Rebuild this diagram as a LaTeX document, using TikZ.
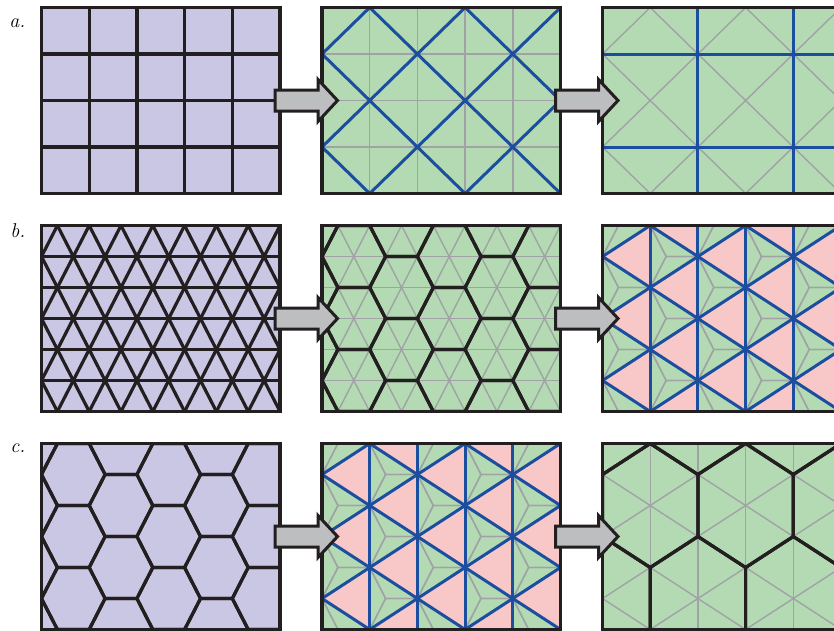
\documentclass[tikz,border=0pt]{standalone}
\usepackage{tikz}
\usetikzlibrary{calc}

\definecolor{lavfill}{RGB}{202,199,228}
\definecolor{greenfill}{RGB}{180,218,180}
\definecolor{pinkfill}{RGB}{248,200,201}
\definecolor{tileblue}{RGB}{28,78,160}
\definecolor{tilegray}{RGB}{160,162,165}
\definecolor{inkblack}{RGB}{35,31,32}
\definecolor{arrowgray}{RGB}{188,190,192}

% square cells (unit = one cell)
\newcommand{\sqgrid}[1]{%
  \foreach \i in {1,...,4} \draw[#1] (\i,0) -- (\i,4);
  \foreach \j in {1,2,3} \draw[#1] (0,\j) -- (5,\j);}
\newcommand{\diaggrid}[1]{%
  \foreach \c in {-3,-1,...,9} {
    \draw[#1] (\c+1,-1) -- (\c-6,6);
    \draw[#1] (\c-1,-1) -- (\c+6,6);
  }}
% small triangles (x = half side, y = one row)
\newcommand{\trigrid}[1]{%
  \foreach \r in {1,...,5} \draw[#1] (0,\r) -- (15,\r);
  \foreach \c in {-7,-5,...,23} {
    \draw[#1] (\c+1,-1) -- (\c-8,8);
    \draw[#1] (\c-1,-1) -- (\c+8,8);
  }}
\newcommand{\flathexes}[1]{%
  \foreach \m/\q in {-1/0,2/1,5/0,8/1,11/0,14/1,17/0}
    \foreach \k in {-1,...,3}
      \draw[#1] (\m-2,\q+2*\k) -- ++(1,-1) -- ++(2,0) -- ++(1,1)
        -- ++(-1,1) -- ++(-2,0) -- cycle;}
% big triangles, turned by 30 degrees
\newcommand{\bigtrigrid}[1]{%
  \foreach \c in {0,3,...,15} \draw[#1] (\c,-1) -- (\c,7);
  \foreach \c in {-21,-15,...,33} {
    \draw[#1] (\c-3,-1) -- (\c+24,8);
    \draw[#1] (\c+3,-1) -- (\c-24,8);
  }}
\newcommand{\pinktris}{%
  \foreach \m/\q in {-6/1,-3/0,0/1,3/0,6/1,9/0,12/1,15/0}
    \foreach \k in {-1,...,4}
      \fill[pinkfill] (\m,\q+2*\k) -- ++(3,-1) -- ++(0,2) -- cycle;}
\newcommand{\bighexes}[1]{%
  \foreach \m/\q in {-3/2,0/5,3/2,6/5,9/2,12/5,15/2,18/5}
    \foreach \k in {-1,0,1}
      \draw[#1] (\m-3,\q+6*\k-1) -- ++(3,-1) -- ++(3,1) -- ++(0,2)
        -- ++(-3,1) -- ++(-3,-1) -- cycle;}

\begin{document}
\begin{tikzpicture}[x=1pt,y=-1pt,
    thinline/.style={draw=tilegray,line width=1.4pt},
    blackline/.style={draw=inkblack,line width=3.2pt,line join=round},
    blueline/.style={draw=tileblue,line width=3pt,line join=round},
    frame/.style={draw=inkblack,line width=3.6pt},
    bigarrow/.style={fill=arrowgray,draw=inkblack,line width=3pt,line join=miter},
    lbl/.style={anchor=base east,font=\fontsize{20}{24}\selectfont\itshape},
    sqcells/.style={x={(47.7pt,0pt)},y={(0pt,-46.5pt)}},
    tricells/.style={x={(15.9pt,0pt)},y={(0pt,-31pt)}}]
  \clip (0,0) rectangle (834,630);
  \fill[white] (0,0) rectangle (834,630);

  % Nhan cac hang
  \node[lbl] (labela) at (29,27) {a.};
  \node[lbl] (labelb) at (29,237) {b.};
  \node[lbl] (labelc) at (29,452) {c.};

  % Hang a
  \begin{scope}[shift={(41.5,7.5)},sqcells]
    \fill[lavfill] (0,0) rectangle (5,4);
    \sqgrid{blackline}
    \draw[frame] (0,0) rectangle (5,4);
  \end{scope}
  \begin{scope}[shift={(322,7.5)},sqcells]
    \fill[greenfill] (0,0) rectangle (5,4);
    \sqgrid{thinline}
    \begin{scope}
      \clip (0,0) rectangle (5,4);
      \diaggrid{blueline}
    \end{scope}
    \draw[frame] (0,0) rectangle (5,4);
  \end{scope}
  \begin{scope}[shift={(602.5,7.5)},sqcells]
    \fill[greenfill] (0,0) rectangle (5,4);
    \begin{scope}
      \clip (0,0) rectangle (5,4);
      \diaggrid{thinline}
    \end{scope}
    \foreach \i in {2,4} \draw[blueline] (\i,0) -- (\i,4);
    \foreach \j in {1,3} \draw[blueline] (0,\j) -- (5,\j);
    \draw[frame] (0,0) rectangle (5,4);
  \end{scope}

  % Hang b
  \begin{scope}[shift={(41.5,225.5)},tricells]
    \fill[lavfill] (0,0) rectangle (15,6);
    \begin{scope}
      \clip (0,0) rectangle (15,6);
      \trigrid{blackline}
    \end{scope}
    \draw[frame] (0,0) rectangle (15,6);
  \end{scope}
  \begin{scope}[shift={(322,225.5)},tricells]
    \fill[greenfill] (0,0) rectangle (15,6);
    \begin{scope}
      \clip (0,0) rectangle (15,6);
      \trigrid{thinline}
      \flathexes{blackline}
    \end{scope}
    \draw[frame] (0,0) rectangle (15,6);
  \end{scope}
  \begin{scope}[shift={(602.5,225.5)},tricells]
    \fill[greenfill] (0,0) rectangle (15,6);
    \begin{scope}
      \clip (0,0) rectangle (15,6);
      \pinktris
      \flathexes{thinline}
      \bigtrigrid{blueline}
    \end{scope}
    \draw[frame] (0,0) rectangle (15,6);
  \end{scope}

  % Hang c
  \begin{scope}[shift={(41.5,443.5)},tricells]
    \fill[lavfill] (0,0) rectangle (15,6);
    \begin{scope}
      \clip (0,0) rectangle (15,6);
      \flathexes{blackline}
    \end{scope}
    \draw[frame] (0,0) rectangle (15,6);
  \end{scope}
  \begin{scope}[shift={(322,443.5)},tricells]
    \fill[greenfill] (0,0) rectangle (15,6);
    \begin{scope}
      \clip (0,0) rectangle (15,6);
      \pinktris
      \flathexes{thinline}
      \bigtrigrid{blueline}
    \end{scope}
    \draw[frame] (0,0) rectangle (15,6);
  \end{scope}
  \begin{scope}[shift={(602.5,443.5)},tricells]
    \fill[greenfill] (0,0) rectangle (15,6);
    \begin{scope}
      \clip (0,0) rectangle (15,6);
      \bigtrigrid{thinline}
      \bighexes{blackline}
    \end{scope}
    \draw[frame] (0,0) rectangle (15,6);
  \end{scope}

  % Mui ten
  \foreach \tx in {337.5,618}
    \foreach \ty in {100.5,318.5,536.5}
      \draw[bigarrow] (\tx,\ty) -- ++(-19.5,-21) -- ++(0,10.5) -- ++(-43,0)
        -- ++(0,21) -- ++(43,0) -- ++(0,10.5) -- cycle;
\end{tikzpicture}
\end{document}
